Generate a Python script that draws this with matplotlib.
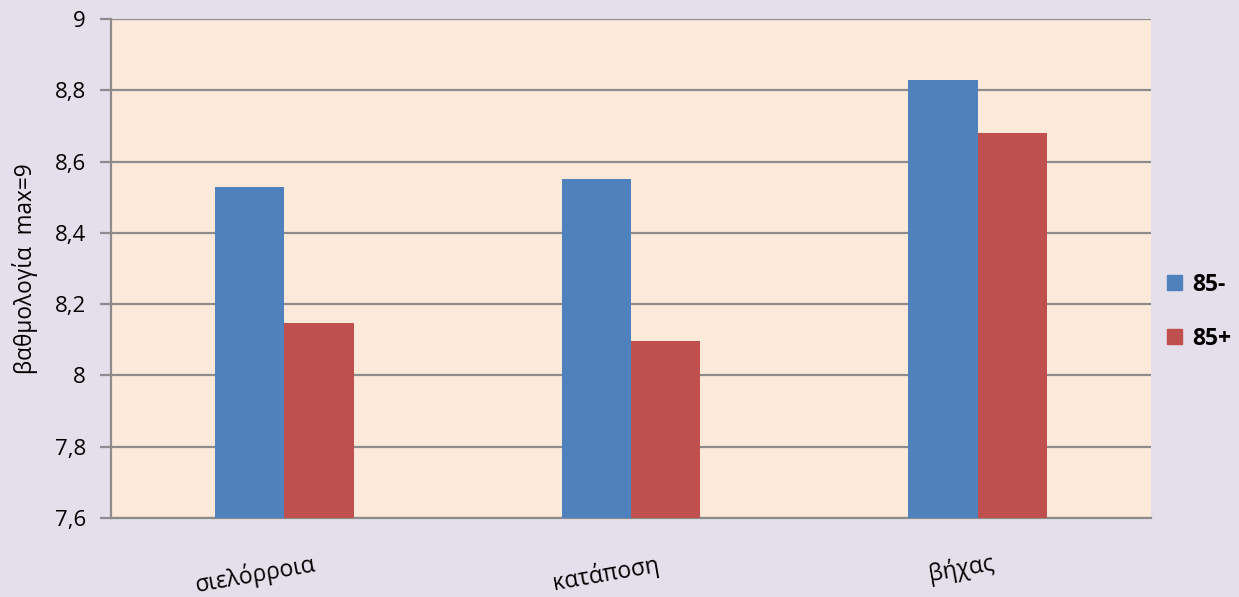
import numpy as np
import matplotlib.pyplot as plt
from matplotlib.patches import Patch
from matplotlib.transforms import ScaledTranslation

plt.rcParams['font.family'] = ['Open Sans', 'DejaVu Sans']

# Δεδομένα
symptoms = ['σιελόρροια', 'κατάποση', 'βήχας']
under_85 = [8.53, 8.552, 8.829]
over_85 = [8.146, 8.096, 8.681]
yticks = [7.6, 7.8, 8.0, 8.2, 8.4, 8.6, 8.8, 9.0]
ytick_labels = ['7,6', '7,8', '8', '8,2', '8,4', '8,6', '8,8', '9']

blue = '#4f81bd'
red = '#c0504d'

fig = plt.figure(figsize=(12.39, 5.97), dpi=100, facecolor='#e5dfec')
ax = fig.add_axes([0.0896, 0.1323, 0.8394, 0.8357], facecolor='#fde9d9')

x = np.arange(len(symptoms))
w = 0.2
ax.bar(x - w / 2, under_85, w, color=blue, zorder=3)
ax.bar(x + w / 2, over_85, w, color=red, zorder=3)

ax.set_xlim(-0.5, 2.5)
ax.set_ylim(7.6, 9.0)
ax.set_yticks(yticks)
ax.set_yticklabels(ytick_labels, fontsize=16)
ax.yaxis.grid(True, color='#8c8c8c', linewidth=1.6, zorder=0)
ax.tick_params(axis='y', length=8, width=1.6, color='#8c8c8c', pad=10)

ax.set_xticks(x)
ax.set_xticklabels(symptoms, fontsize=16.5, rotation=10)
ax.tick_params(axis='x', length=0, pad=24)

for side in ['top', 'right']:
    ax.spines[side].set_visible(False)
for side in ['left', 'bottom']:
    ax.spines[side].set_color('#8c8c8c')
    ax.spines[side].set_linewidth(1.6)

ax.set_ylabel('βαθμολογία  max=9', fontsize=16.3, labelpad=12)

# οι ετικέτες του άξονα x μετατοπίζονται λίγο αριστερά, ανάλογα με το πλάτος τους
fig.canvas.draw()
renderer = fig.canvas.get_renderer()
for lbl in ax.get_xticklabels():
    width_px = lbl.get_window_extent(renderer).width
    shift = -0.23 * width_px / fig.dpi
    lbl.set_transform(lbl.get_transform() +
                      ScaledTranslation(shift, 0, fig.dpi_scale_trans))

handles = [Patch(color=blue, label='85-'), Patch(color=red, label='85+')]
fig.legend(handles=handles, loc='center left', bbox_to_anchor=(0.925, 0.478),
           frameon=False, prop={'weight': 'bold', 'size': 16.5},
           handlelength=0.65, handleheight=0.65, handletextpad=0.45,
           labelspacing=1.3)

fig.savefig('out.png', dpi=100, facecolor=fig.get_facecolor())
